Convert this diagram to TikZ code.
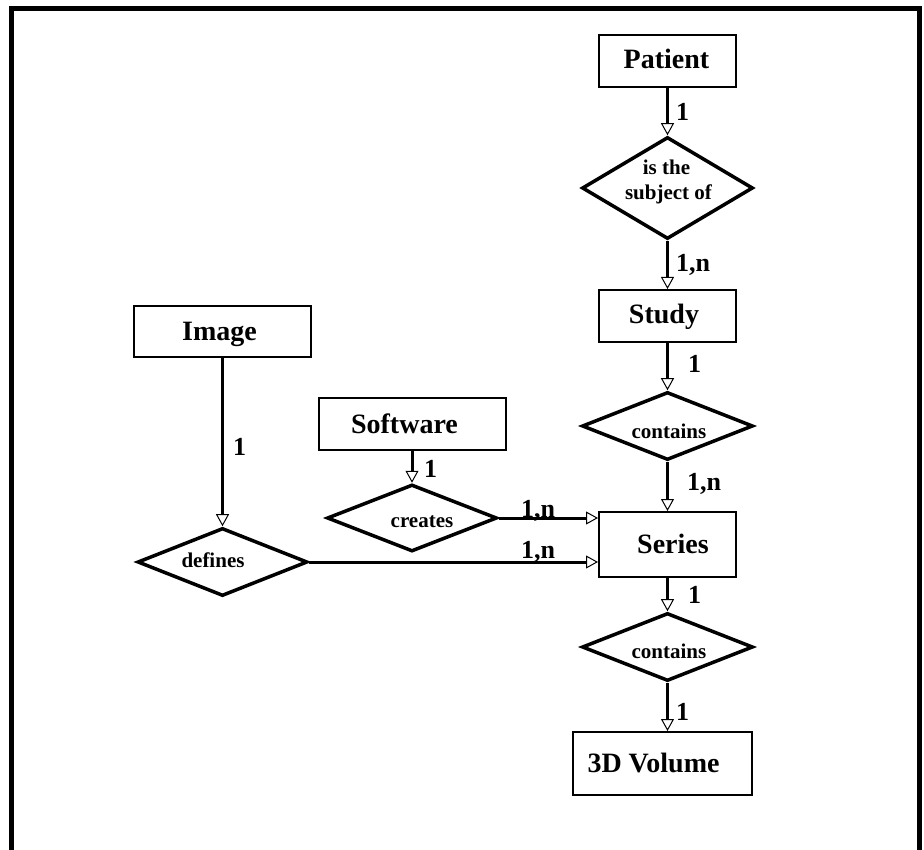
\documentclass[tikz,border=0pt]{standalone}
\usepackage{fontspec}
\setmainfont{Liberation Serif}
\usetikzlibrary{shapes.geometric,arrows.meta}
\begin{document}
\begin{tikzpicture}[x=1pt,y=-1pt,
 entity/.style={draw, line width=2pt, rectangle, inner sep=0pt},
 relation/.style={draw, line width=3.5pt, diamond, inner sep=0pt, minimum width=171pt, minimum height=68pt},
 conn/.style={line width=3pt, -{Triangle[fill=white, length=12pt, width=13pt, line width=1pt]}},
 ename/.style={font=\fontsize{28}{30}\selectfont\bfseries, anchor=base, inner sep=0pt},
 rname/.style={font=\fontsize{21}{24}\selectfont\bfseries, anchor=base, inner sep=0pt},
 card/.style={font=\fontsize{26}{28}\selectfont\bfseries, anchor=base west, inner sep=0pt},
 frame/.style={line width=5pt, line join=miter}
]
\useasboundingbox (0,0) rectangle (924,850);
\draw[frame] (11,850) -- (11,8.5) -- (919,8.5) -- (919,850);

% entities
\node[entity, minimum width=137pt, minimum height=52pt] (patient) at (667.5,61) {};
\node[entity, minimum width=137pt, minimum height=52pt] (study) at (667.5,316) {};
\node[entity, minimum width=137pt, minimum height=65pt] (series) at (667.5,544.5) {};
\node[entity, minimum width=179pt, minimum height=63pt] (vol) at (662.5,763.5) {};
\node[entity, minimum width=177pt, minimum height=51pt] (image) at (222.5,331.5) {};
\node[entity, minimum width=187pt, minimum height=52pt] (software) at (412,424) {};

% relations
\node[relation, minimum height=102pt] (subj) at (667.5,188) {};
\node[relation] (cont1) at (667.5,426) {};
\node[relation] (cont2) at (667.5,647) {};
\node[relation, minimum width=170pt, minimum height=67pt] (creates) at (412,518) {};
\node[relation, minimum width=170pt] (defines) at (222.5,562) {};

% entity names
\node[ename] (patient-t) at (666.5,69) {Patient};
\node[ename] (study-t) at (664,324) {Study};
\node[ename] (series-t) at (673,553) {Series};
\node[ename] (vol-t) at (653.5,772) {3D Volume};
\node[ename] (image-t) at (219.5,341) {Image};
\node[ename] (software-t) at (404.5,433) {Software};

% relation names
\node[rname] (subj-t1) at (666.5,175) {is the};
\node[rname] (subj-t2) at (668.5,199.5) {subject of};
\node[rname] (cont1-t) at (669,438) {contains};
\node[rname] (cont2-t) at (669,658) {contains};
\node[rname] (creates-t) at (422,527) {creates};
\node[rname] (defines-t) at (213,567) {defines};

% connectors
\draw[conn] (patient) -- (subj);
\draw[conn] (subj) -- (study);
\draw[conn] (study) -- (cont1);
\draw[conn] (cont1) -- (series);
\draw[conn] (series) -- (cont2);
\draw[conn] (cont2.south) -- (cont2.south |- vol.north);
\draw[conn] (image) -- (defines);
\draw[conn] (software) -- (creates);
\draw[conn] (creates.east) -- (creates.east -| series.west);
\draw[conn] (defines.east) -- (defines.east -| series.west);

% cardinalities
\node[card] (c1) at (676,121) {1};
\node[card] (c2) at (676,272) {1,n};
\node[card] (c3) at (688,373) {1};
\node[card] (c4) at (687,490) {1,n};
\node[card] (c5) at (688,603) {1};
\node[card] (c6) at (676,720) {1};
\node[card] (c7) at (233,455) {1};
\node[card] (c8) at (424,477) {1};
\node[card] (c9) at (521,517) {1,n};
\node[card] (c10) at (521,558) {1,n};
\end{tikzpicture}
\end{document}
